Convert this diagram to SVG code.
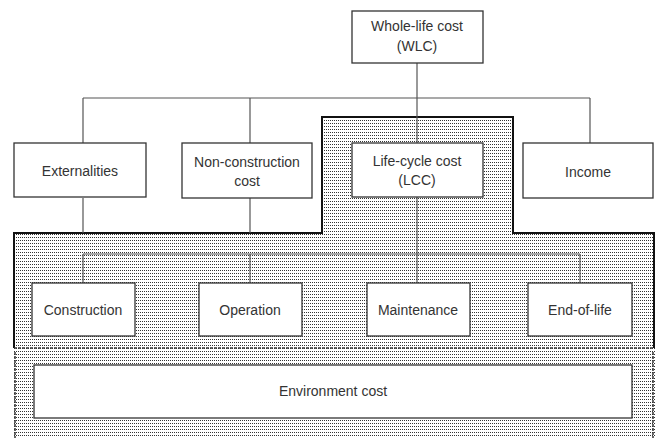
<svg xmlns="http://www.w3.org/2000/svg" width="656" height="438" viewBox="0 0 656 438">
<defs>
<pattern id="dots" width="2" height="3" patternUnits="userSpaceOnUse">
<rect width="2" height="3" fill="#ffffff"/>
<rect x="0" y="0" width="1" height="1" fill="#333333"/>
</pattern>
</defs>
<style>
.box{fill:#ffffff;stroke:#333333;stroke-width:1.3}
.lbl{font-family:"Liberation Sans",Arial,sans-serif;font-size:14px;fill:#333333;text-anchor:middle}
.con{fill:none;stroke:#555555;stroke-width:1.2}
.zone{fill:url(#dots);stroke:none}
.edge{fill:none;stroke:#111111;stroke-width:2}
.dash{fill:none;stroke:#333333;stroke-width:1.5;stroke-dasharray:3 1}
</style>
<rect width="656" height="438" fill="#ffffff"/>
<g id="shaded-zones">
<path class="zone" d="M14,348 V233 H322 V117 H513 V233 H655 V348 Z"/>
<rect class="zone" x="14" y="348" width="642" height="90"/>
<path class="edge" d="M14,348 V233 H322 V117 H513 V233 H654 V348"/>
<path class="dash" d="M14,348 H654"/>
<path class="dash" d="M15,352 V438 M653,352 V438"/>
</g>
<g id="connectors">
<path class="con" d="M417,63 V143"/>
<path class="con" d="M83,98 H590"/>
<path class="con" d="M83,98 V143 M250,98 V143 M590,98 V143"/>
<path class="con" d="M83,198 V233 M250,198 V233"/>
<path class="con" d="M83,254 H580"/>
<path class="con" d="M83,254 V283 M250,254 V283 M580,254 V283"/>
<path class="con" d="M417,197 V283"/>
</g>
<g id="wlc">
<rect class="box" x="352" y="11" width="131" height="52"/>
<text class="lbl" x="417" y="31">Whole-life cost</text>
<text class="lbl" x="417" y="51">(WLC)</text>
</g>
<g id="externalities">
<rect class="box" x="14" y="143" width="132" height="54"/>
<text class="lbl" x="80" y="176">Externalities</text>
</g>
<g id="non-construction">
<rect class="box" x="182" y="143" width="130" height="55"/>
<text class="lbl" x="247" y="167">Non-construction</text>
<text class="lbl" x="247" y="186">cost</text>
</g>
<g id="lcc">
<rect class="box" x="352" y="143" width="131" height="54"/>
<text class="lbl" x="417" y="166">Life-cycle cost</text>
<text class="lbl" x="417" y="185">(LCC)</text>
</g>
<g id="income">
<rect class="box" x="523" y="143" width="130" height="55"/>
<text class="lbl" x="588" y="177">Income</text>
</g>
<g id="construction">
<rect class="box" x="32" y="283" width="103" height="53"/>
<text class="lbl" x="83" y="315">Construction</text>
</g>
<g id="operation">
<rect class="box" x="199" y="283" width="103" height="53"/>
<text class="lbl" x="250" y="315">Operation</text>
</g>
<g id="maintenance">
<rect class="box" x="367" y="283" width="103" height="53"/>
<text class="lbl" x="418" y="315">Maintenance</text>
</g>
<g id="end-of-life">
<rect class="box" x="528" y="283" width="104" height="53"/>
<text class="lbl" x="580" y="315">End-of-life</text>
</g>
<g id="environment-cost">
<rect class="box" x="34" y="365" width="598" height="53"/>
<text class="lbl" x="333" y="396">Environment cost</text>
</g>
</svg>
